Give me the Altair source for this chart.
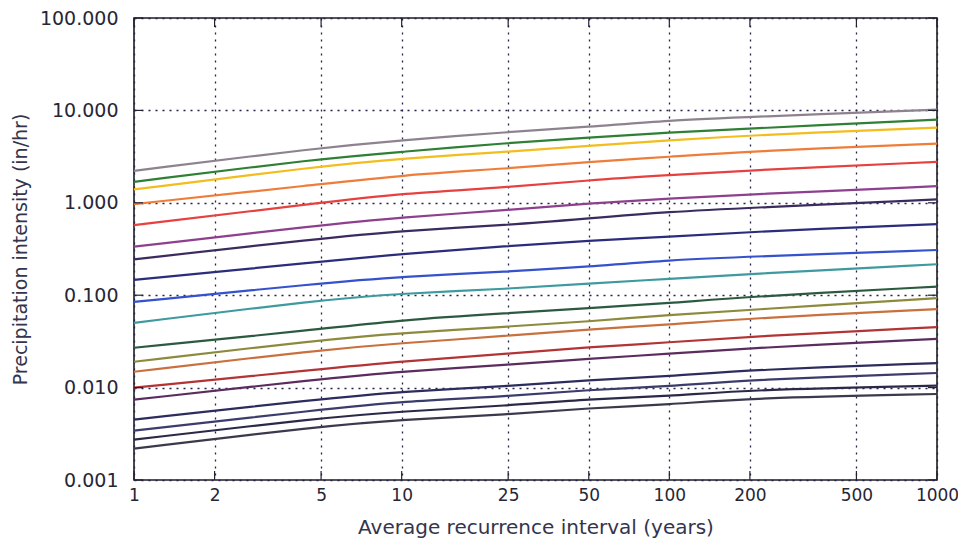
import altair as alt
import pandas as pd

# Average recurrence interval (years) at which values were read
ari = [1, 5, 10, 25, 50, 100, 200, 1000]

durations = ["5-min", "10-min", "15-min", "30-min", "60-min", "2-hr", "3-hr", "6-hr",
             "12-hr", "24-hr", "2-day", "3-day", "4-day", "7-day", "10-day",
             "20-day", "30-day", "45-day", "60-day"]

# precipitation intensity (in/hr) per duration
d_5min = [2.22, 3.96, 4.75, 5.85, 6.62, 7.82, 8.49, 10.2]
d_10min = [1.686, 3.02, 3.555, 4.45, 5.09, 5.76, 6.36, 7.95]
d_15min = [1.395, 2.49, 3.02, 3.57, 4.15, 4.75, 5.38, 6.52]
d_30min = [0.968, 1.592, 1.991, 2.352, 2.773, 3.14, 3.616, 4.38]
d_60min = [0.574, 1.0, 1.264, 1.467, 1.759, 1.991, 2.255, 2.773]
d_2hr = [0.335, 0.574, 0.696, 0.834, 0.985, 1.116, 1.232, 1.514]
d_3hr = [0.2447, 0.4127, 0.4984, 0.574, 0.6784, 0.7994, 0.883, 1.088]
d_6hr = [0.1463, 0.2307, 0.2793, 0.3407, 0.3887, 0.4294, 0.4862, 0.589]
d_12hr = [0.0846, 0.1348, 0.1588, 0.1798, 0.2037, 0.2405, 0.2612, 0.3085]
d_24hr = [0.0502, 0.089, 0.1046, 0.117, 0.1341, 0.15, 0.1698, 0.2162]
d_2day = [0.027, 0.0429, 0.0541, 0.0639, 0.0724, 0.0819, 0.0966, 0.1239]
d_3day = [0.01905, 0.0329, 0.0389, 0.0458, 0.0519, 0.0613, 0.0694, 0.0928]
d_4day = [0.01485, 0.02566, 0.0303, 0.0363, 0.0429, 0.0478, 0.0564, 0.0706]
d_7day = [0.00998, 0.01588, 0.01919, 0.02323, 0.02744, 0.03077, 0.03572, 0.04512]
d_10day = [0.0074, 0.01239, 0.01496, 0.01767, 0.02052, 0.02323, 0.02677, 0.03375]
d_20day = [0.0045, 0.00753, 0.0091, 0.0103, 0.01217, 0.01321, 0.0156, 0.01844]
d_30day = [0.003424, 0.00577, 0.0071, 0.00804, 0.0095, 0.0103, 0.01217, 0.01438]
d_45day = [0.002737, 0.0047, 0.00553, 0.00638, 0.00753, 0.00804, 0.0095, 0.01048]
d_60day = [0.002189, 0.00381, 0.0045, 0.0051, 0.00602, 0.00654, 0.00772, 0.00853]

series = [d_5min, d_10min, d_15min, d_30min, d_60min, d_2hr, d_3hr, d_6hr, d_12hr,
          d_24hr, d_2day, d_3day, d_4day, d_7day, d_10day, d_20day, d_30day,
          d_45day, d_60day]

colors = ["#8f8290", "#2f7f35", "#f2bd1d", "#ef7d3a", "#e6413f", "#8e3f8e",
          "#3b2b5e", "#2c2c7c", "#3552cc", "#3e9a9e", "#2c5a40", "#8c8a3c",
          "#c9703e", "#b23434", "#5c2c5e", "#2c2c5e", "#3c3c6c", "#2a2a48",
          "#3a3a4c"]

x_ticks = [1, 2, 5, 10, 25, 50, 100, 200, 500, 1000]
y_ticks = [0.001, 0.01, 0.1, 1, 10, 100]

rows = []
for name, vals in zip(durations, series):
    for a, v in zip(ari, vals):
        rows.append({"duration": name, "ari": a, "intensity": v})
df = pd.DataFrame(rows)

W, H = 803, 462
xscale = alt.Scale(type="log", domain=[1, 1000], nice=False)
yscale = alt.Scale(type="log", domain=[0.001, 100], nice=False)

lines = alt.Chart(df).mark_line(strokeWidth=2.2, interpolate="basis").encode(
    x=alt.X("ari:Q", scale=xscale,
            axis=alt.Axis(values=x_ticks, format="d",
                          title="Average recurrence interval (years)",
                          labelFlush=False, labelOverlap=False, labelFontSize=17,
                          labelPadding=7, titlePadding=14)),
    y=alt.Y("intensity:Q", scale=yscale,
            axis=alt.Axis(values=y_ticks, format=".3f",
                          title="Precipitation intensity (in/hr)",
                          labelFlush=False, labelOverlap=False,
                          labelPadding=16, titlePadding=9, titleFontSize=19)),
    color=alt.Color("duration:N", scale=alt.Scale(domain=durations, range=colors),
                    legend=None),
    detail="duration:N",
)

xt = pd.DataFrame({"t": x_ticks})
yt = pd.DataFrame({"t": y_ticks})
tick_style = dict(color="#222233", strokeWidth=1.2)

xb = alt.Chart(xt).mark_rule(**tick_style).encode(
    x=alt.X("t:Q", scale=xscale, axis=None), y=alt.value(H), y2=alt.value(H - 9))
xtop = alt.Chart(xt).mark_rule(**tick_style).encode(
    x=alt.X("t:Q", scale=xscale, axis=None), y=alt.value(0), y2=alt.value(9))
yl = alt.Chart(yt).mark_rule(**tick_style).encode(
    y=alt.Y("t:Q", scale=yscale, axis=None), x=alt.value(0), x2=alt.value(9))
yr = alt.Chart(yt).mark_rule(**tick_style).encode(
    y=alt.Y("t:Q", scale=yscale, axis=None), x=alt.value(W), x2=alt.value(W - 9))

chart = alt.layer(lines, xb, xtop, yl, yr).resolve_axis(
    x="independent", y="independent"
).properties(
    width=W, height=H,
    autosize=alt.AutoSizeParams(type="none"),
    padding={"left": 126, "top": 10, "right": 21, "bottom": 61},
).configure_view(
    stroke="#1c1c24", strokeWidth=1.6
).configure_axis(
    domain=False, ticks=False,
    grid=True, gridColor="#23234a", gridDash=[2, 5], gridWidth=1.3, gridOpacity=1,
    labelFont="DejaVu Sans", labelFontSize=19, labelColor="#262636",
    titleFont="DejaVu Sans", titleFontSize=20, titleColor="#34344c",
    titleFontWeight="normal",
)

chart.save("out.html", embed_options={"renderer": "svg", "actions": False})
